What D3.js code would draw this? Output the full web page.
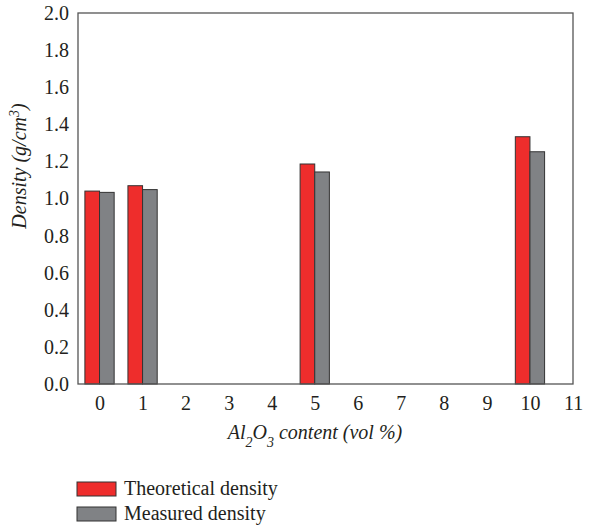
<!DOCTYPE html>
<html><head><meta charset="utf-8">
<script src="https://cdn.jsdelivr.net/npm/d3@7"></script>
<style>body{margin:0;background:#fff}svg{display:block}</style>
</head><body><svg id="c" width="594" height="530"></svg>
<script>
const categories = [0, 1, 5, 10];
const theoretical = [1.040, 1.069, 1.186, 1.333];
const measured = [1.033, 1.048, 1.143, 1.252];
const xTicks = [0,1,2,3,4,5,6,7,8,9,10,11];
const yTicks = [0,0.2,0.4,0.6,0.8,1.0,1.2,1.4,1.6,1.8,2.0];
const seriesNames = ["Theoretical density", "Measured density"];
const colors = ["#ee2d2c", "#808285"];

const FONT = "Liberation Serif";
const FS = "20px";
const svg = d3.select("#c").style("font-family", FONT);
const L=78, R=573, T=13, B=384;
const x = d3.scaleLinear().domain([-0.5, 11]).range([L, R]);
const y = d3.scaleLinear().domain([0, 2]).range([B, T]);
const bw = x(0.34) - x(0);

function styleAxis(g){
  g.attr("font-family", null).attr("font-size", null);
  g.select(".domain").remove();
  g.selectAll("text").attr("fill","#231f20").style("font-family",FONT).style("font-size",FS);
}
svg.append("g").attr("transform",`translate(${L},0)`)
  .call(d3.axisLeft(y).tickValues(yTicks).tickFormat(d3.format(".1f")).tickSize(0).tickPadding(9))
  .call(styleAxis);
svg.append("g").attr("transform",`translate(0,${B})`)
  .call(d3.axisBottom(x).tickValues(xTicks).tickFormat(d3.format("d")).tickSize(0).tickPadding(12))
  .call(styleAxis);

const series=[theoretical, measured];
series.forEach((vals,si)=>{
  svg.append("g").selectAll("rect").data(categories).join("rect")
    .attr("x",(d)=>x(d)+(si-1)*bw)
    .attr("y",(d,i)=>y(vals[i]))
    .attr("width",bw)
    .attr("height",(d,i)=>B-y(vals[i]))
    .attr("fill",colors[si]).attr("stroke","#333").attr("stroke-width",1);
});

svg.append("rect").attr("x",L).attr("y",T).attr("width",R-L).attr("height",B-T)
  .attr("fill","none").attr("stroke","#555").attr("stroke-width",1.3);

// axis titles
svg.append("text").attr("transform",`translate(26,166) rotate(-90)`).attr("text-anchor","middle")
  .style("font-family",FONT).style("font-size",FS).style("font-style","italic").attr("fill","#231f20")
  .html('Density (g/cm<tspan baseline-shift="super" font-size="14px">3</tspan>)');
svg.append("text").attr("x",315).attr("y",439).attr("text-anchor","middle")
  .style("font-family",FONT).style("font-size",FS).style("font-style","italic").attr("fill","#231f20")
  .html('Al<tspan baseline-shift="sub" font-size="14px">2</tspan>O<tspan baseline-shift="sub" font-size="14px">3</tspan> content (vol %)');

// legend
const lg = svg.append("g");
seriesNames.forEach((n,i)=>{
  const yy = 482 + i*25;
  lg.append("rect").attr("x",77).attr("y",yy).attr("width",39).attr("height",14)
    .attr("fill",colors[i]).attr("stroke","#333").attr("stroke-width",1);
  lg.append("text").attr("x",124).attr("y",yy+13).style("font-family",FONT).style("font-size",FS)
    .attr("fill","#231f20").text(n);
});
</script></body></html>
